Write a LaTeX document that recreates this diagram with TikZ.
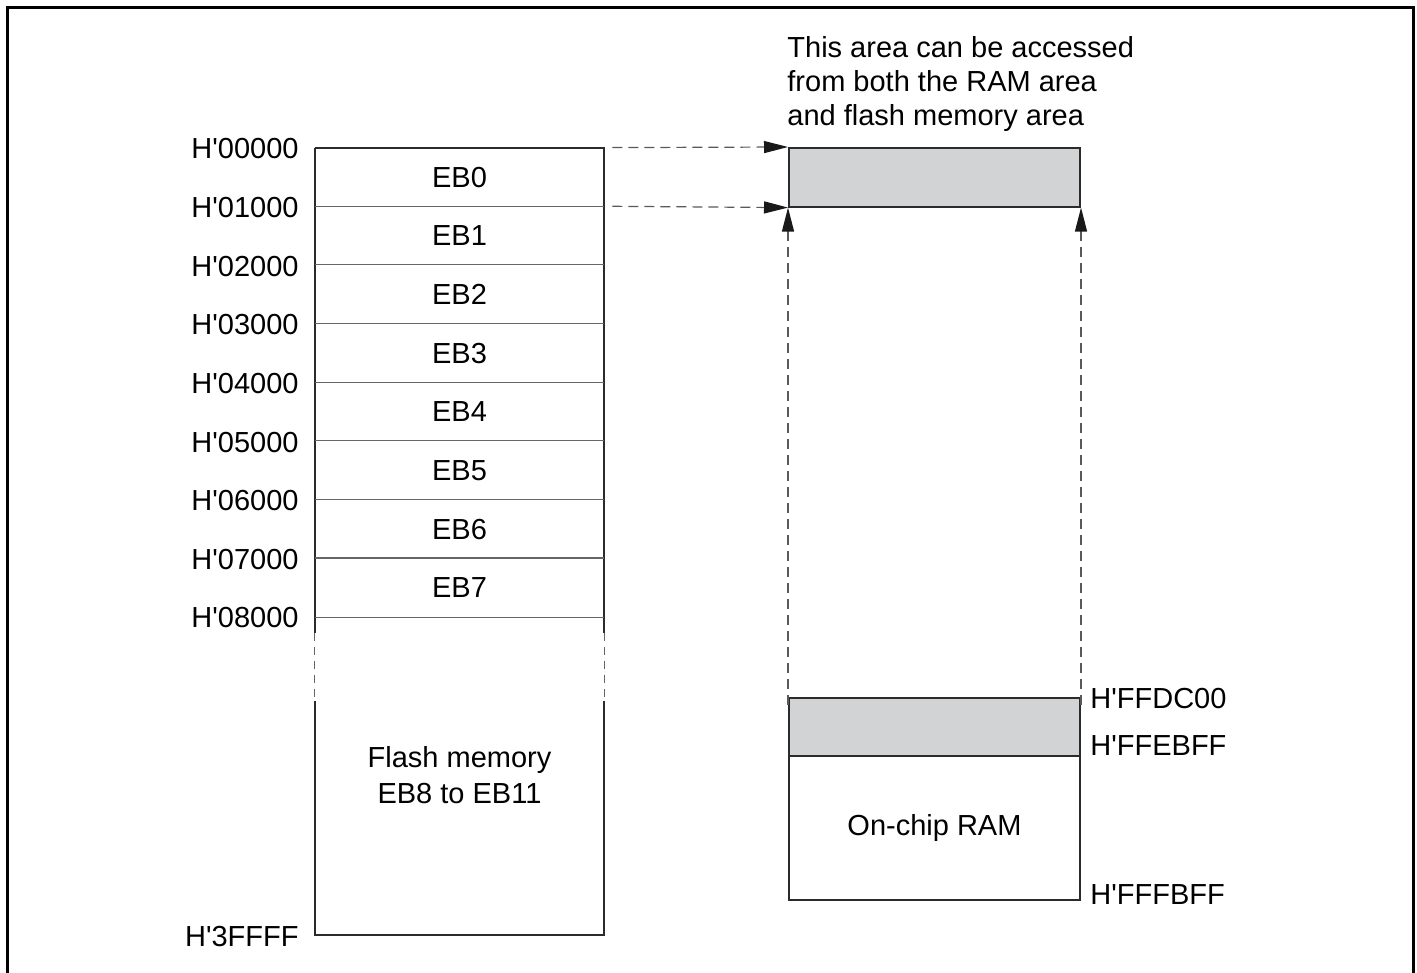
\documentclass[tikz,border=0pt]{standalone}
\usepackage{fontspec}
\setmainfont{Liberation Sans}
\usetikzlibrary{arrows.meta,positioning,calc}
\definecolor{shade}{HTML}{D1D3D4}
\definecolor{edge}{HTML}{2B2B2B}
\newcommand{\hq}{\textquotesingle}

\begin{document}
\begin{tikzpicture}[x=0.5pt, y=-0.5pt,
  >={Triangle[length=12pt,width=6pt,color=black!90]},
  label/.style={font=\fontsize{14.5}{17}\selectfont, inner sep=0pt},
  block/.style={label, minimum width=144.5pt, minimum height=29.3pt},
  ramblock/.style={label, draw=edge, line width=1pt, minimum width=145.5pt},
  outline/.style={draw=edge, line width=1pt},
  divider/.style={draw=gray!80!black, line width=0.6pt},
  link/.style={->, draw=gray!70!black, line width=0.6pt, dash pattern=on 5pt off 3pt}]

  \useasboundingbox (0,0) rectangle (1417,973);
  % frame (open at the bottom)
  \draw[line width=1.5pt] (7,973) -- (7,7.5) -- (1413.5,7.5) -- (1413.5,973);

  % Flash memory blocks EB0 to EB7
  \foreach \i in {0,...,7}{
    \node[block] (EB\i) at (459.5,{148+58.625*(\i+0.5)}) {EB\i};
    \node[label, anchor=east] (adr\i) at (299,{149+58.625*\i}) {H\hq0\i000};
  }
  \node[label, anchor=east] (adr8) at (299,618) {H\hq08000};
  \node[block, minimum height=160pt, align=center] (flash) at (459.5,775)
    {Flash memory\\[1pt]EB8 to EB11};
  \node[label, anchor=east] (adrend) at (299,937) {H\hq3FFFF};

  % flash outline with break
  \draw[outline] (EB0.north west) -- (EB0.north east) -- ($(flash.north east)+(0,18)$);
  \draw[outline] (EB0.north west) -- ($(flash.north west)+(0,18)$);
  \draw[outline] ($(flash.south west)+(0,-234)$) -- (flash.south west) -- (flash.south east)
    -- ($(flash.south east)+(0,-234)$);
  \draw[divider, dash pattern=on 4pt off 3pt] ($(flash.north west)+(0,18)$) -- ($(flash.south west)+(0,-234)$);
  \draw[divider, dash pattern=on 4pt off 3pt] ($(flash.north east)+(0,18)$) -- ($(flash.south east)+(0,-234)$);
  \foreach \i in {1,...,7}
    \draw[divider] (EB\i.north west) -- (EB\i.north east);
  \draw[divider] (EB7.south west) -- (EB7.south east);

  % RAM side
  \node[ramblock, fill=shade, minimum height=29.3pt] (shared) at (934.5,177.3) {};
  \node[ramblock, fill=shade, minimum height=29pt] (ramsh) at (934.5,727) {};
  \node[ramblock, minimum height=72pt] (ram) at (934.5,828) {On-chip RAM};
  \node[label, anchor=west] (adr9) at (1090,699) {H\hq FFDC00};
  \node[label, anchor=west] (adr10) at (1090,746) {H\hq FFEBFF};
  \node[label, anchor=west] (adr11) at (1090,895) {H\hq FFFBFF};

  % note
  \node[label, anchor=north west, align=left] (note) at (787,36)
    {This area can be accessed\\from both the RAM area\\and flash memory area};

  % Arrows
  \draw[link, shorten <=4pt] (EB0.north east) -- (shared.north west);
  \draw[link, shorten <=4pt] (EB1.north east) -- (shared.south west);
  \draw[link, shorten <=-4pt] (ramsh.north west) -- (shared.south west);
  \draw[link, shorten <=-4pt] (ramsh.north east) -- (shared.south east);
\end{tikzpicture}
\end{document}
